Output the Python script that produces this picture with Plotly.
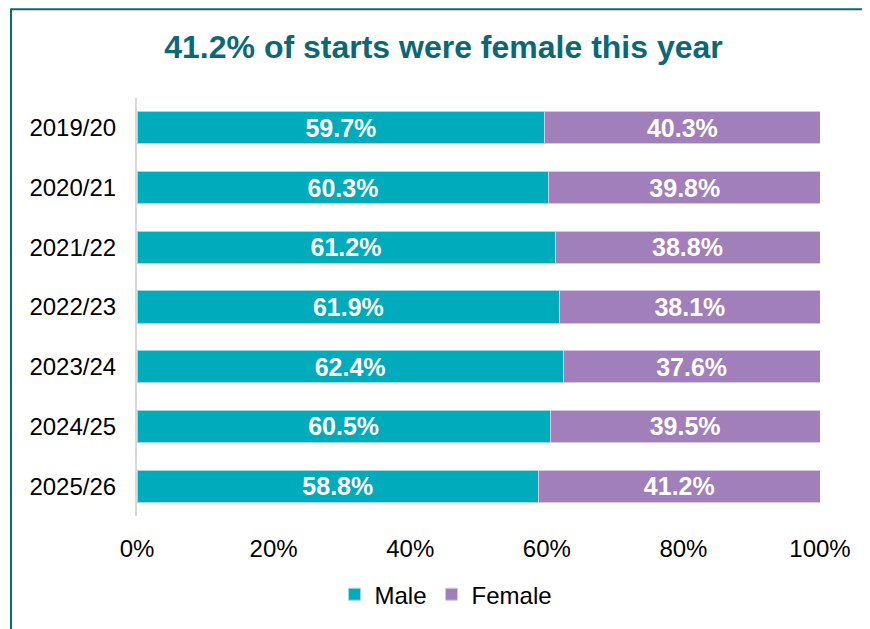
import plotly.graph_objects as go

years = ["2019/20", "2020/21", "2021/22", "2022/23", "2023/24", "2024/25", "2025/26"]
male = [59.7, 60.3, 61.2, 61.9, 62.4, 60.5, 58.8]
female = [40.3, 39.8, 38.8, 38.1, 37.6, 39.5, 41.2]
x_ticks = [0, 20, 40, 60, 80, 100]
x_tick_text = ["0%", "20%", "40%", "60%", "80%", "100%"]

TEAL = "#00ABBB"
PURPLE = "#A07FBA"
DARK = "#0D6775"
FONT = "Liberation Sans, Arial, sans-serif"

# page has an 8px body margin, so the figure is 8px smaller and offset
W, H = 862, 621
L, R, T, B = 129, 50, 90, 111
PW, PH = W - L - R, H - T - B

fig = go.Figure()
fig.add_trace(go.Bar(
    y=years, x=male, name="Male", orientation="h",
    marker=dict(color=TEAL, line=dict(color="#9FD9E0", width=1)),
    text=[f"{v:.1f}%" for v in male], textposition="inside", insidetextanchor="middle",
    constraintext="none",
    textfont=dict(color="white", size=25, family=FONT, weight="bold"),
    hoverinfo="skip",
))
fig.add_trace(go.Bar(
    y=years, x=female, name="Female", orientation="h",
    marker=dict(color=PURPLE, line=dict(color="#D6C8E3", width=1)),
    text=[f"{v:.1f}%" for v in female], textposition="inside", insidetextanchor="middle",
    constraintext="none",
    textfont=dict(color="white", size=25, family=FONT, weight="bold"),
    hoverinfo="skip",
))

fig.update_layout(
    width=W, height=H,
    barmode="stack", bargap=0.46,
    uniformtext=dict(mode=False),
    plot_bgcolor="white", paper_bgcolor="white",
    font=dict(family=FONT, size=24, color="#000000"),
    margin=dict(l=L, r=R, t=T, b=B),
    title=dict(text="<b>41.2% of starts were female this year</b>",
               font=dict(size=32, color=DARK, family=FONT),
               x=(443.5 - 8) / W, xanchor="center", y=1 - (47 - 8) / H, yanchor="middle"),
    xaxis=dict(range=[0, 100], tickvals=x_ticks, ticktext=x_tick_text,
               showgrid=False, zeroline=False, showline=False,
               ticks="outside", ticklen=11, tickcolor="rgba(0,0,0,0)",
               tickfont=dict(size=24), fixedrange=True),
    yaxis=dict(categoryorder="array", categoryarray=years[::-1],
               showgrid=False, zeroline=False, showline=True, linecolor="#D9D9D9", linewidth=2,
               ticks="outside", ticklen=14, tickcolor="rgba(0,0,0,0)",
               tickfont=dict(size=24), fixedrange=True),
    legend=dict(orientation="h", x=(446 - 137) / PW, xanchor="center",
                y=-(597 - 518) / PH, yanchor="middle",
                font=dict(size=24), traceorder="normal", itemwidth=30),
    showlegend=True,
    shapes=[
        dict(type="line", xref="paper", yref="paper",
             x0=(11 - 137) / PW, x1=(11 - 137) / PW, y0=1 + (98 - 8) / PH, y1=-0.6,
             line=dict(color=DARK, width=2)),
        dict(type="line", xref="paper", yref="paper",
             x0=(11 - 137) / PW, x1=1.3, y0=1 + (98 - 8) / PH - 0.002, y1=1 + (98 - 8) / PH - 0.002,
             line=dict(color=DARK, width=2)),
    ],
)

fig.write_html("out.html")
